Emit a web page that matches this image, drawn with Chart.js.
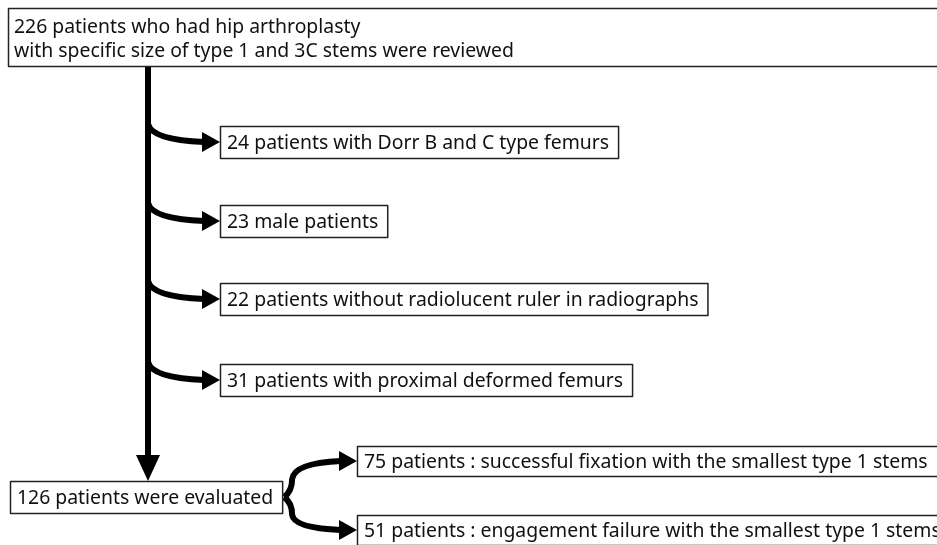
<!DOCTYPE html>
<html>
<head>
<meta charset="utf-8">
<script src="https://cdn.jsdelivr.net/npm/chart.js@4/dist/chart.umd.min.js"></script>
<style>
  html, body { margin: 0; padding: 0; background: #fff; }
  canvas { display: block; }
</style>
</head>
<body>
<canvas id="flow" width="937" height="545"></canvas>
<script>
// flow content
const reviewed = ['226 patients who had hip arthroplasty', 'with specific size of type 1 and 3C stems were reviewed'];
const excluded = [
  '24 patients with Dorr B and C type femurs',
  '23 male patients',
  '22 patients without radiolucent ruler in radiographs',
  '31 patients with proximal deformed femurs'
];
const evaluated = '126 patients were evaluated';
const outcomes = [
  '75 patients : successful fixation with the smallest type 1 stems',
  '51 patients : engagement failure with the smallest type 1 stems'
];

// layout in axis units (0..937 by 0..545, y downwards)
const topBox = { x: 8, y: 8, h: 58 };
const spineX = 148;
const exclX = 220;
const exclY = [142, 221, 299, 380];
const evalBox = { x: 10, y: 481, h: 32 };
const outX = 357;
const outY = [461, 530];
const rightEdge = 950;

const FONT = '19.4px "Noto Sans", "Open Sans", sans-serif';

const flowPlugin = {
  id: 'flow',
  afterDraw(chart) {
    const c = chart.ctx, xs = chart.scales.x, ys = chart.scales.y;
    const X = v => xs.getPixelForValue(v), Y = v => ys.getPixelForValue(v);
    c.save();
    c.font = FONT;
    c.textBaseline = 'middle';

    function box(x, yTop, h, lines, toEdge) {
      let w = Math.max(...lines.map(t => c.measureText(t).width)) + 16;
      if (toEdge) w = X(rightEdge) - X(x);
      c.fillStyle = '#fff';
      c.fillRect(X(x), Y(yTop), w, h);
      c.lineWidth = 1.5;
      c.strokeStyle = '#222';
      c.strokeRect(X(x) + 0.5, Y(yTop) + 0.5, w, h);
      c.fillStyle = '#111';
      if (lines.length === 2) {
        c.fillText(lines[0], X(x) + 6, Y(yTop) + 19);
        c.fillText(lines[1], X(x) + 6, Y(yTop) + 43);
      } else {
        c.fillText(lines[0], X(x) + 7, Y(yTop) + h / 2 + 1);
      }
    }
    function head(tx, ty, dir, len, half) {
      c.beginPath();
      if (dir === 'right') {
        c.moveTo(tx, ty); c.lineTo(tx - len, ty - half); c.lineTo(tx - len, ty + half);
      } else {
        c.moveTo(tx, ty); c.lineTo(tx - half, ty - len); c.lineTo(tx + half, ty - len);
      }
      c.closePath();
      c.fillStyle = '#000';
      c.fill();
    }

    // main spine
    c.strokeStyle = '#000';
    c.lineWidth = 6;
    c.lineCap = 'butt';
    c.beginPath();
    c.moveTo(X(spineX), Y(topBox.y + topBox.h));
    c.lineTo(X(spineX), Y(evalBox.y) - 24);
    c.stroke();
    head(X(spineX), Y(evalBox.y), 'down', 26, 12);

    // branches to excluded
    exclY.forEach(yv => {
      c.strokeStyle = '#000';
      c.lineWidth = 6;
      c.beginPath();
      c.moveTo(X(spineX), Y(yv) - 18);
      c.quadraticCurveTo(X(spineX) + 4, Y(yv) - 2, X(exclX) - 16, Y(yv));
      c.stroke();
      head(X(exclX), Y(yv), 'right', 18, 10);
    });

    // brace to outcomes
    const ew = c.measureText(evaluated).width + 16;
    const bx = X(evalBox.x) + ew + 2, by = Y(evalBox.y + evalBox.h / 2);
    c.strokeStyle = '#000';
    c.lineWidth = 6;
    c.lineJoin = 'round';
    c.beginPath();
    c.moveTo(bx, by);
    c.quadraticCurveTo(bx + 8, by - 6, bx + 8, by - 18);
    c.quadraticCurveTo(bx + 10, Y(outY[0]) + 2, X(outX) - 16, Y(outY[0]));
    c.stroke();
    c.beginPath();
    c.moveTo(bx, by);
    c.quadraticCurveTo(bx + 8, by + 6, bx + 8, by + 18);
    c.quadraticCurveTo(bx + 10, Y(outY[1]) - 2, X(outX) - 16, Y(outY[1]));
    c.stroke();
    head(X(outX), Y(outY[0]), 'right', 18, 10);
    head(X(outX), Y(outY[1]), 'right', 18, 10);

    // boxes
    box(topBox.x, topBox.y, topBox.h, reviewed, true);
    exclY.forEach((yv, i) => box(exclX, yv - 16, 32, [excluded[i]], false));
    box(evalBox.x, evalBox.y, evalBox.h, [evaluated], false);
    outY.forEach((yv, i) => box(outX, yv - 15, 30, [outcomes[i]], true));
    c.restore();
  }
};

new Chart(document.getElementById('flow'), {
  type: 'scatter',
  data: { datasets: [{ data: [], pointRadius: 0 }] },
  options: {
    responsive: false,
    animation: false,
    layout: { padding: 0 },
    plugins: { legend: { display: false }, tooltip: { enabled: false } },
    scales: {
      x: { type: 'linear', min: 0, max: 937, display: false },
      y: { type: 'linear', min: 0, max: 545, reverse: true, display: false }
    }
  },
  plugins: [flowPlugin]
});
</script>
</body>
</html>
